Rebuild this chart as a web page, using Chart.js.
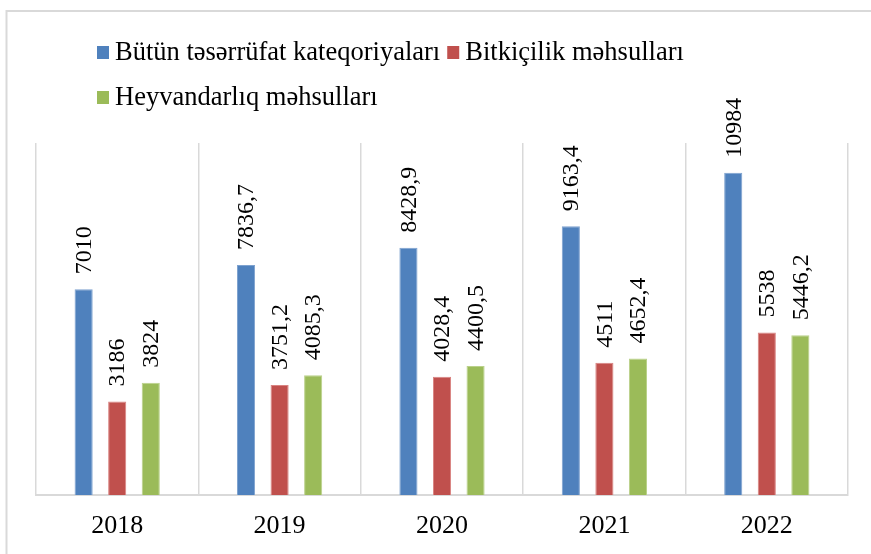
<!DOCTYPE html>
<html>
<head>
<meta charset="utf-8">
<script src="https://cdn.jsdelivr.net/npm/chart.js@4"></script>
<style>
  html, body { margin: 0; padding: 0; background: #ffffff; }
  #wrap { position: relative; width: 871px; height: 554px; }
</style>
</head>
<body>
<div id="wrap"><canvas id="c" width="871" height="554"></canvas></div>
<script>
const categories = ['2018', '2019', '2020', '2021', '2022'];
const seriesNames = ['Bütün təsərrüfat kateqoriyaları', 'Bitkiçilik məhsulları', 'Heyvandarlıq məhsulları'];
const allCategories = [7010, 7836.7, 8428.9, 9163.4, 10984];
const cropProducts = [3186, 3751.2, 4028.4, 4511, 5538];
const livestockProducts = [3824, 4085.3, 4400.5, 4652.4, 5446.2];
const colors = ['#4F81BD', '#C0504D', '#9BBB59'];
const borderColors = ['#7EA2CF', '#D98381', '#BAD18A'];

const FONT = '"Liberation Serif", "Times New Roman", serif';

function fmt(v) {
  return String(v).replace('.', ',');
}

const framePlugin = {
  id: 'frame',
  beforeDraw(chart) {
    const ctx = chart.ctx;
    ctx.save();
    ctx.fillStyle = '#ffffff';
    ctx.fillRect(0, 0, chart.width, chart.height);
    ctx.strokeStyle = '#D9D9D9';
    ctx.lineWidth = 2;
    ctx.beginPath();
    ctx.moveTo(6.5, chart.height);
    ctx.lineTo(6.5, 11);
    ctx.lineTo(chart.width, 11);
    ctx.stroke();
    ctx.restore();
  }
};

const customLegend = {
  id: 'customLegend',
  afterDraw(chart, args, opts) {
    const ctx = chart.ctx;
    ctx.save();
    ctx.font = opts.fontSize + 'px ' + FONT;
    ctx.textBaseline = 'middle';
    ctx.textAlign = 'left';
    let x = opts.x, row = 0;
    chart.data.datasets.forEach((ds, i) => {
      const tw = ctx.measureText(ds.label).width;
      const w = opts.box + opts.boxGap + tw;
      if (x > opts.x && x + w > opts.maxRight) { row++; x = opts.x; }
      const y = opts.y + row * opts.rowHeight;
      ctx.fillStyle = ds.backgroundColor;
      ctx.fillRect(x, y - opts.box / 2, opts.box, opts.box + 1);
      ctx.fillStyle = '#000000';
      ctx.fillText(ds.label, x + opts.box + opts.boxGap, y + 1);
      x += w + opts.itemGap;
    });
    ctx.restore();
  }
};

const barLabels = {
  id: 'barLabels',
  afterDatasetsDraw(chart, args, opts) {
    const ctx = chart.ctx;
    ctx.save();
    ctx.font = opts.fontSize + 'px ' + FONT;
    ctx.fillStyle = '#000000';
    ctx.textAlign = 'left';
    ctx.textBaseline = 'middle';
    chart.data.datasets.forEach((ds, di) => {
      const meta = chart.getDatasetMeta(di);
      meta.data.forEach((bar, i) => {
        ctx.save();
        ctx.translate(bar.x, bar.y - opts.gap);
        ctx.rotate(-Math.PI / 2);
        ctx.fillText(fmt(ds.data[i]), 0, 1);
        ctx.restore();
      });
    });
    ctx.restore();
  }
};

const seriesData = [allCategories, cropProducts, livestockProducts];

new Chart(document.getElementById('c'), {
  type: 'bar',
  data: {
    labels: categories,
    datasets: seriesData.map((d, i) => ({
      label: seriesNames[i],
      data: d,
      backgroundColor: colors[i],
      borderColor: borderColors[i],
      borderWidth: 1,
      categoryPercentage: 0.62,
      barPercentage: 0.54
    }))
  },
  options: {
    responsive: false,
    animation: false,
    events: [],
    layout: { padding: { left: 36, right: 23, top: 143, bottom: 12 } },
    plugins: {
      legend: { display: false },
      tooltip: { enabled: false },
      customLegend: { x: 97, y: 52, rowHeight: 45, box: 12, boxGap: 6, itemGap: 7, maxRight: 820, fontSize: 26.5 },
      barLabels: { fontSize: 24, gap: 15 }
    },
    scales: {
      x: {
        grid: { display: true, offset: true, color: '#D9D9D9', lineWidth: 1.5, drawTicks: false },
        border: { display: true, color: '#D9D9D9', width: 2 },
        ticks: { color: '#000000', font: { family: FONT, size: 26, lineHeight: 1.2 }, padding: 16 },
        afterFit(scale) { scale.height = 47; }
      },
      y: {
        display: false,
        min: 0,
        max: 12000
      }
    }
  },
  plugins: [framePlugin, customLegend, barLabels]
});
</script>
</body>
</html>
